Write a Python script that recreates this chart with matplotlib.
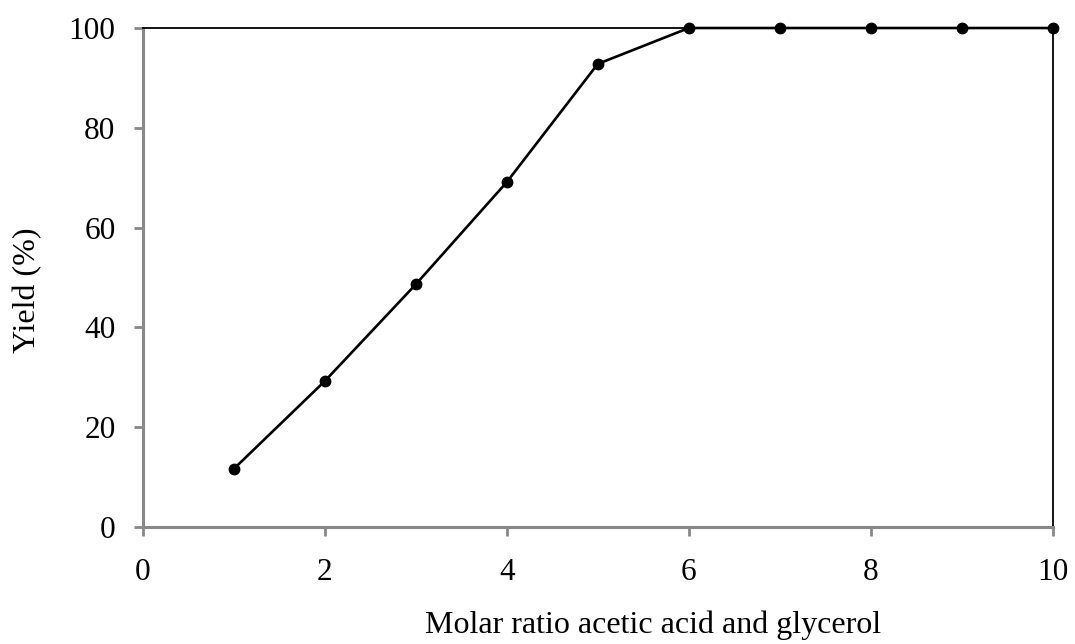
import matplotlib
matplotlib.use("Agg")
import matplotlib.pyplot as plt

molar_ratio = [1, 2, 3, 4, 5, 6, 7, 8, 9, 10]
yield_pct = [11.6, 29.2, 48.6, 69.1, 92.8, 100, 100, 100, 100, 100]
x_ticks = [0, 2, 4, 6, 8, 10]
y_ticks = [0, 20, 40, 60, 80, 100]

plt.rcParams['font.family'] = ['Liberation Serif', 'DejaVu Serif']

fig = plt.figure(figsize=(10.75, 6.44), dpi=100)
ax = fig.add_axes([0.1326, 0.1817, 0.9795 - 0.1326, 0.9565 - 0.1817])

ax.plot(molar_ratio, yield_pct, color='black', lw=1.9, marker='o', markersize=7.5, zorder=5, clip_on=False)

ax.set_xlim(0, 10)
ax.set_ylim(0, 100)
ax.set_xticks(x_ticks)
ax.set_yticks(y_ticks)
ax.tick_params(axis='both', labelsize=22.5, color='#888888', width=2, length=6.5, direction='out')
ax.tick_params(axis='x', pad=16)
ax.tick_params(axis='y', pad=13)

for s in ['left', 'bottom']:
    ax.spines[s].set_color('#888888')
    ax.spines[s].set_linewidth(2.2)
for s in ['top', 'right']:
    ax.spines[s].set_color('black')
    ax.spines[s].set_linewidth(1.3)

ax.set_xlabel('Molar ratio acetic acid and glycerol', fontsize=23, labelpad=17,
              x=0.561, ha='center')
ax.set_ylabel('Yield (%)', fontsize=23, labelpad=19, y=0.475, ha='center')

fig.savefig('out.png', dpi=100)
